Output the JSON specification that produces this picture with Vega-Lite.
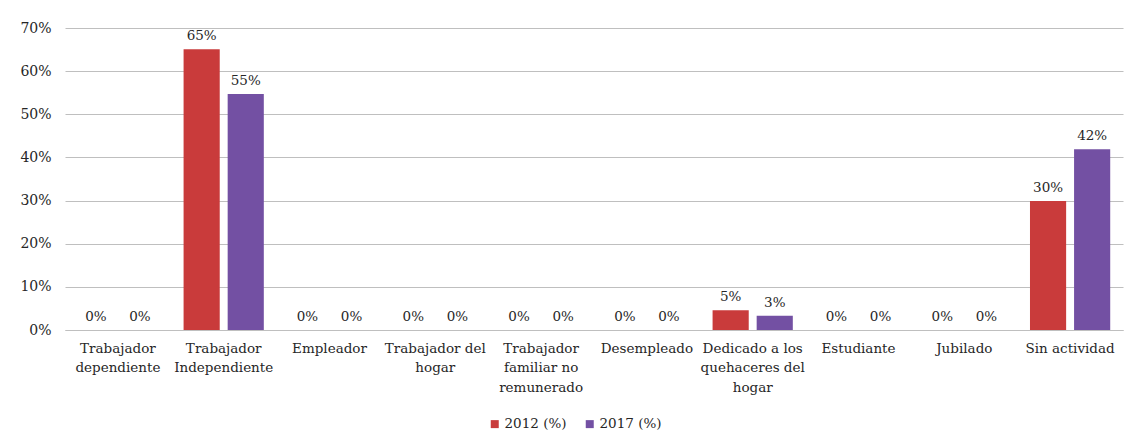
{
  "$schema": "https://vega.github.io/schema/vega-lite/v6.json",
  "autosize": {"type": "none"},
  "width": 1058,
  "height": 302,
  "padding": {"left": 65, "top": 28, "right": 8, "bottom": 106},
  "background": "white",
  "data": {
    "values": [
      {"categoria": "Trabajador dependiente", "serie": "2012 (%)", "valor": 0},
      {"categoria": "Trabajador dependiente", "serie": "2017 (%)", "valor": 0},
      {"categoria": "Trabajador Independiente", "serie": "2012 (%)", "valor": 0.651},
      {"categoria": "Trabajador Independiente", "serie": "2017 (%)", "valor": 0.547},
      {"categoria": "Empleador", "serie": "2012 (%)", "valor": 0},
      {"categoria": "Empleador", "serie": "2017 (%)", "valor": 0},
      {"categoria": "Trabajador del hogar", "serie": "2012 (%)", "valor": 0},
      {"categoria": "Trabajador del hogar", "serie": "2017 (%)", "valor": 0},
      {"categoria": "Trabajador familiar no remunerado", "serie": "2012 (%)", "valor": 0},
      {"categoria": "Trabajador familiar no remunerado", "serie": "2017 (%)", "valor": 0},
      {"categoria": "Desempleado", "serie": "2012 (%)", "valor": 0},
      {"categoria": "Desempleado", "serie": "2017 (%)", "valor": 0},
      {"categoria": "Dedicado a los quehaceres del hogar", "serie": "2012 (%)", "valor": 0.046},
      {"categoria": "Dedicado a los quehaceres del hogar", "serie": "2017 (%)", "valor": 0.033},
      {"categoria": "Estudiante", "serie": "2012 (%)", "valor": 0},
      {"categoria": "Estudiante", "serie": "2017 (%)", "valor": 0},
      {"categoria": "Jubilado", "serie": "2012 (%)", "valor": 0},
      {"categoria": "Jubilado", "serie": "2017 (%)", "valor": 0},
      {"categoria": "Sin actividad", "serie": "2012 (%)", "valor": 0.299},
      {"categoria": "Sin actividad", "serie": "2017 (%)", "valor": 0.419}
    ]
  },
  "encoding": {
    "x": {
      "field": "categoria",
      "type": "nominal",
      "sort": null,
      "title": null,
      "scale": {"paddingInner": 0, "paddingOuter": 0},
      "axis": {
        "labelAngle": 0,
        "ticks": false,
        "domain": true,
        "domainColor": "#BFBFBF",
        "labelPadding": 11,
        "labelLineHeight": 19.5,
        "labelLimit": 0,
        "labelOverlap": false,
        "labelFont": "DejaVu Serif",
        "labelExpr": "datum.label == 'Trabajador dependiente' ? ['Trabajador', 'dependiente'] : datum.label == 'Trabajador Independiente' ? ['Trabajador', 'Independiente'] : datum.label == 'Trabajador del hogar' ? ['Trabajador del', 'hogar'] : datum.label == 'Trabajador familiar no remunerado' ? ['Trabajador', 'familiar no', 'remunerado'] : datum.label == 'Dedicado a los quehaceres del hogar' ? ['Dedicado a los', 'quehaceres del', 'hogar'] : datum.label"
      }
    },
    "xOffset": {
      "field": "serie",
      "type": "nominal",
      "scale": {"paddingInner": 0.18, "paddingOuter": 0.29}
    },
    "y": {
      "field": "valor",
      "type": "quantitative",
      "title": null,
      "scale": {"domain": [0, 0.7], "nice": false},
      "axis": {
        "format": ".0%",
        "values": [0, 0.1, 0.2, 0.3, 0.4, 0.5, 0.6, 0.7],
        "labelOverlap": false,
        "ticks": false,
        "domain": false,
        "labelPadding": 14,
        "labelFont": "DejaVu Serif",
        "labelFontSize": 14,
        "gridColor": "#BFBFBF",
        "gridWidth": 1
      }
    }
  },
  "layer": [
    {
      "mark": {"type": "bar"},
      "encoding": {
        "color": {
          "field": "serie",
          "type": "nominal",
          "title": null,
          "scale": {"domain": ["2012 (%)", "2017 (%)"], "range": ["#C93B3B", "#7350A3"]},
          "legend": {
            "orient": "none",
            "legendX": 423,
            "legendY": 389,
            "direction": "horizontal",
            "symbolType": "square",
            "symbolSize": 64,
            "symbolStrokeWidth": 0,
            "labelFontSize": 13.5,
            "labelFont": "DejaVu Serif",
            "columnPadding": 16,
            "labelOffset": 3
          }
        }
      }
    },
    {
      "mark": {"type": "text", "baseline": "bottom", "dy": -6, "fontSize": 13.5, "color": "#262626", "font": "DejaVu Serif"},
      "encoding": {
        "text": {"field": "valor", "type": "quantitative", "format": ".0%"}
      }
    }
  ],
  "config": {
    "font": "DejaVu Serif",
    "view": {"stroke": null},
    "axis": {"labelFontSize": 13.5, "labelColor": "#262626"},
    "legend": {"labelColor": "#262626"}
  }
}
